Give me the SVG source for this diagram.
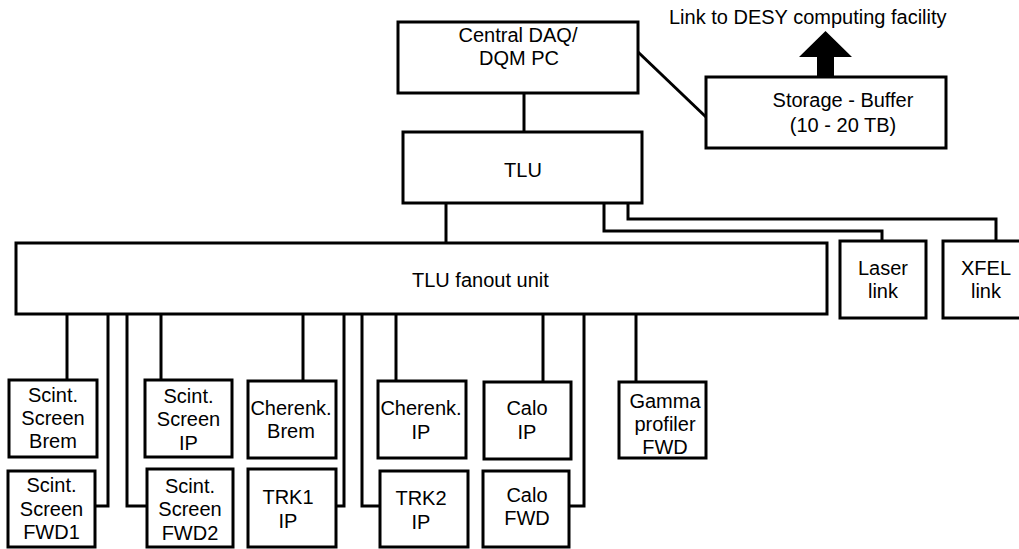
<svg xmlns="http://www.w3.org/2000/svg" width="1019" height="549" viewBox="0 0 1019 549">
<style>
.box{fill:#fff;stroke:#000;stroke-width:3}
.ln{fill:none;stroke:#000;stroke-width:3}
text{font-family:"Liberation Sans",Arial,sans-serif;font-size:20px;fill:#000}
.c{text-anchor:middle}
</style>
<rect width="1019" height="549" fill="#fff"/>
<g id="connectors">
<path class="ln" d="M524 93V132"/>
<path class="ln" d="M638 52L706 117"/>
<polygon points="817,77 834,77 834,57 852,57 825.5,31 799,57 817,57" fill="#000"/>
<path class="ln" d="M446 203V243"/>
<path class="ln" d="M604 203V231H882V241"/>
<path class="ln" d="M628 203V219H996V241"/>
<path class="ln" d="M67 314V380"/>
<path class="ln" d="M108 314V506H95"/>
<path class="ln" d="M127 314V506H147"/>
<path class="ln" d="M161 314V380"/>
<path class="ln" d="M303 314V381"/>
<path class="ln" d="M344 314V506H336"/>
<path class="ln" d="M362 314V506H380"/>
<path class="ln" d="M396 314V381"/>
<path class="ln" d="M543 314V382"/>
<path class="ln" d="M584 314V506H569"/>
<path class="ln" d="M636 314V382"/>
</g>
<text id="link-label" x="669" y="24">Link to DESY computing facility</text>
<g id="daq"><rect class="box" x="398" y="22" width="240" height="71"/><text class="c" x="518" y="42">Central DAQ/</text><text class="c" x="519" y="65">DQM PC</text></g>
<g id="tlu"><rect class="box" x="403" y="132" width="239" height="71"/><text class="c" x="523" y="177">TLU</text></g>
<g id="storage"><rect class="box" x="706" y="77" width="240" height="71"/><text class="c" x="843" y="107">Storage - Buffer</text><text class="c" x="843" y="132">(10 - 20 TB)</text></g>
<g id="fanout"><rect class="box" x="16" y="243" width="811" height="71"/><text x="412" y="287">TLU fanout unit</text></g>
<g id="laser"><rect class="box" x="840" y="241" width="86" height="77"/><text class="c" x="883" y="275">Laser</text><text class="c" x="883" y="298">link</text></g>
<g id="xfel"><rect class="box" x="943" y="241" width="87" height="77"/><text class="c" x="986" y="275">XFEL</text><text class="c" x="986" y="298">link</text></g>
<g id="scint-brem"><rect class="box" x="9" y="380" width="88" height="77"/><text class="c" x="53" y="402">Scint.</text><text class="c" x="53" y="425">Screen</text><text class="c" x="53" y="448">Brem</text></g>
<g id="scint-ip"><rect class="box" x="145" y="380" width="87" height="77"/><text class="c" x="188.5" y="403">Scint.</text><text class="c" x="188.5" y="426">Screen</text><text class="c" x="188.5" y="450">IP</text></g>
<g id="cherenk-brem"><rect class="box" x="248" y="381" width="88" height="77"/><text class="c" x="291" y="415">Cherenk.</text><text class="c" x="291" y="438">Brem</text></g>
<g id="cherenk-ip"><rect class="box" x="378" y="381" width="88" height="77"/><text class="c" x="421" y="415">Cherenk.</text><text class="c" x="421" y="439">IP</text></g>
<g id="calo-ip"><rect class="box" x="484" y="382" width="87" height="77"/><text class="c" x="527" y="415">Calo</text><text class="c" x="527" y="439">IP</text></g>
<g id="gamma"><rect class="box" x="619" y="382" width="87" height="76"/><text class="c" x="665" y="408">Gamma</text><text class="c" x="665" y="431">profiler</text><text class="c" x="665" y="454">FWD</text></g>
<g id="scint-fwd1"><rect class="box" x="8" y="471" width="87" height="76"/><text class="c" x="51.5" y="492">Scint.</text><text class="c" x="51.5" y="516">Screen</text><text class="c" x="51.5" y="539">FWD1</text></g>
<g id="scint-fwd2"><rect class="box" x="147" y="469" width="86" height="78"/><text class="c" x="190" y="493">Scint.</text><text class="c" x="190" y="516">Screen</text><text class="c" x="190" y="540">FWD2</text></g>
<g id="trk1"><rect class="box" x="248" y="469" width="88" height="78"/><text class="c" x="288" y="504">TRK1</text><text class="c" x="288" y="528">IP</text></g>
<g id="trk2"><rect class="box" x="380" y="471" width="88" height="76"/><text class="c" x="421" y="505">TRK2</text><text class="c" x="421" y="529">IP</text></g>
<g id="calo-fwd"><rect class="box" x="483" y="471" width="86" height="76"/><text class="c" x="527" y="502">Calo</text><text class="c" x="527" y="525">FWD</text></g>
</svg>
